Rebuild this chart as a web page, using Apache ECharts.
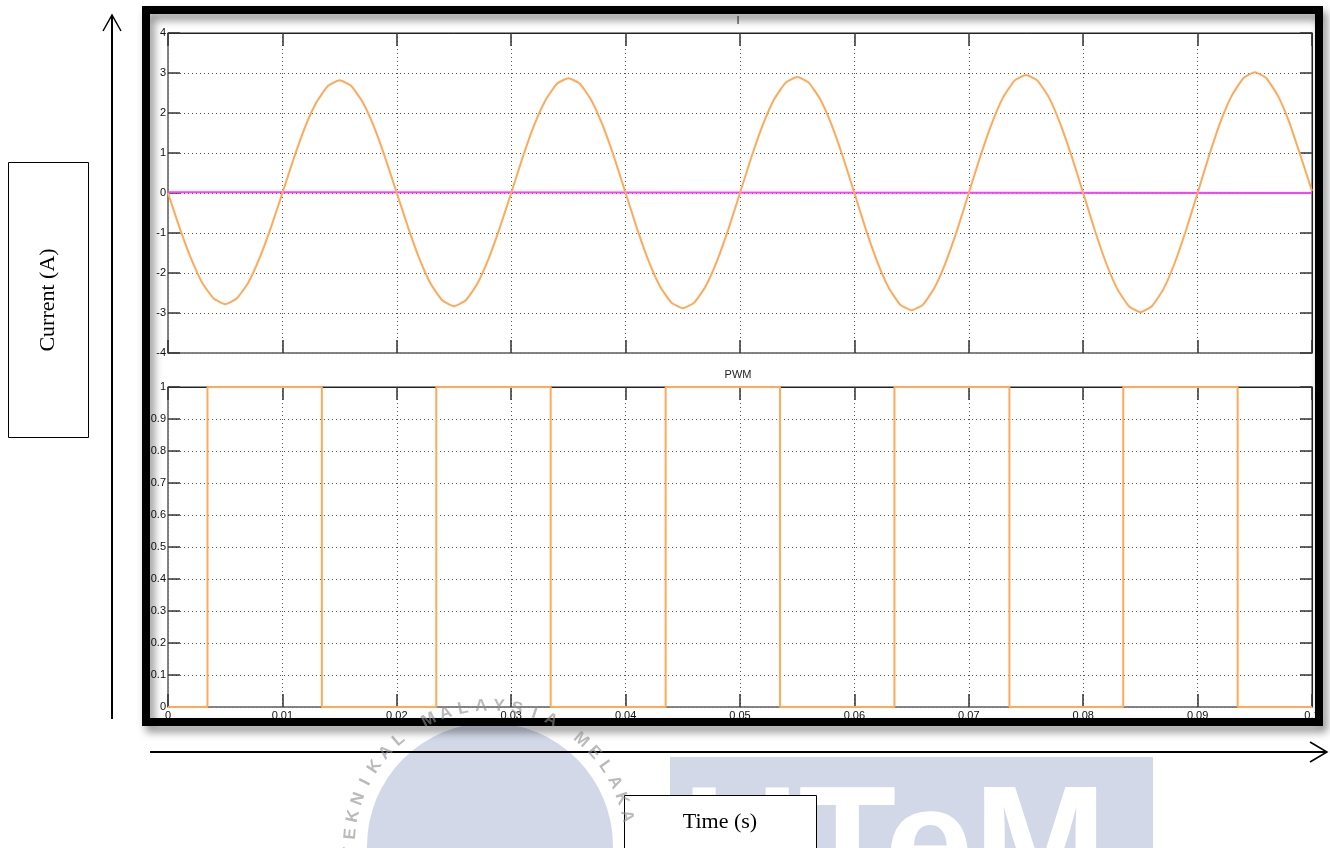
<!DOCTYPE html>
<html><head><meta charset="utf-8">
<script src="https://cdn.jsdelivr.net/npm/echarts@6/dist/echarts.min.js"></script>
<style>html,body{margin:0;padding:0;background:#fff}#c{width:1330px;height:848px}</style>
</head><body><div id="c"></div>
<script>
// ---- data ----
const sampleStep = 0.001; // seconds between current samples
const currentValues = [0,
 -0.86,-1.63,-2.25,-2.64,-2.78,-2.64,-2.25,-1.63,-0.86,0,
 0.87,1.66,2.28,2.68,2.82,2.68,2.28,1.66,0.87,0,
 -0.87,-1.66,-2.29,-2.69,-2.83,-2.69,-2.29,-1.66,-0.87,0,
 0.89,1.69,2.32,2.73,2.87,2.73,2.32,1.69,0.89,0,
 -0.89,-1.69,-2.33,-2.74,-2.88,-2.74,-2.33,-1.69,-0.89,0,
 0.90,1.71,2.35,2.76,2.90,2.76,2.35,1.71,0.90,0,
 -0.91,-1.72,-2.37,-2.79,-2.93,-2.79,-2.37,-1.72,-0.91,0,
 0.91,1.73,2.39,2.81,2.95,2.81,2.39,1.73,0.91,0,
 -0.92,-1.75,-2.41,-2.83,-2.98,-2.83,-2.41,-1.75,-0.92,0,
 0.93,1.78,2.44,2.87,3.02,2.87,2.44,1.78,0.93,0.05];
const refTime = [0, 0.0099, 0.01, 0.1];
const refValues = [0.02, 0.02, 0, 0];
const pwmRise = [0.00345, 0.02345, 0.0435, 0.0635, 0.0835];
const pwmFall = [0.01345, 0.03345, 0.0535, 0.07355, 0.0935];
const timeTicks = [0, 0.01, 0.02, 0.03, 0.04, 0.05, 0.06, 0.07, 0.08, 0.09, 0.1];
const currentTicks = [-4, -3, -2, -1, 0, 1, 2, 3, 4];
const pwmTicks = [0, 0.1, 0.2, 0.3, 0.4, 0.5, 0.6, 0.7, 0.8, 0.9, 1];
const topTitle = 'I';
const bottomTitle = 'PWM';
const yName = 'Current (A)';
const xName = 'Time (s)';

// ---- build series data ----
const currentData = currentValues.map((v, i) => [i * sampleStep, v]);
const refData = refTime.map((t, i) => [t, refValues[i]]);
const pwmData = [[timeTicks[0], 0]];
pwmRise.forEach((r, i) => {
  pwmData.push([r, 0], [r, 1], [pwmFall[i], 1], [pwmFall[i], 0]);
});
pwmData.push([timeTicks[timeTicks.length - 1], 0]);

const ORANGE = '#ffa95a';
const MAGENTA = '#ff3cff';
const FONT = 'Liberation Sans, Arial, sans-serif';
const SERIF = 'Liberation Serif, Times New Roman, serif';

function xAxes(gi, labels) {
  return [
    { gridIndex: gi, type: 'value', min: timeTicks[0], max: timeTicks[timeTicks.length-1], interval: 0.01,
      axisLine: { onZero: false, lineStyle: { color: '#808080', width: 1.5 } },
      axisTick: { inside: true, length: 13, lineStyle: { color: '#333', width: 1.5 } },
      axisLabel: { show: labels, margin: 3, fontSize: 11, fontFamily: FONT, color: '#111',
        formatter: v => String(+v.toFixed(2)) },
      splitLine: { show: true, lineStyle: { type: [1, 3], color: '#555', width: 1 } } },
    { gridIndex: gi, type: 'value', position: 'top', min: timeTicks[0], max: timeTicks[timeTicks.length-1], interval: 0.01,
      axisLine: { onZero: false, lineStyle: { color: '#222', width: 1 } },
      axisTick: { inside: true, length: 13, lineStyle: { color: '#333', width: 1.5 } },
      axisLabel: { show: false }, splitLine: { show: false } }
  ];
}
function yAxes(gi, ticks, interval, fmt) {
  return [
    { gridIndex: gi, type: 'value', min: ticks[0], max: ticks[ticks.length-1], interval: interval,
      axisLine: { show: true, onZero: false, lineStyle: { color: '#808080', width: 1.5 } },
      axisTick: { show: true, inside: true, length: 12, lineStyle: { color: '#333', width: 1.5 } },
      axisLabel: { margin: 2, fontSize: 11, fontFamily: FONT, color: '#111', formatter: fmt },
      splitLine: { show: true, lineStyle: { type: [1, 3], color: '#555', width: 1 } } },
    { gridIndex: gi, type: 'value', position: 'right', min: ticks[0], max: ticks[ticks.length-1], interval: interval,
      axisLine: { show: true, onZero: false, lineStyle: { color: '#222', width: 1 } },
      axisTick: { show: true, inside: true, length: 12, lineStyle: { color: '#333', width: 1.5 } },
      axisLabel: { show: false }, splitLine: { show: false } }
  ];
}

// watermark arc letters
const arcText = 'TEKNIKAL MALAYSIA MELAKA';
const arcCx = 490, arcCy = 846, arcR = 140;
const arcGraphics = [];
for (let i = 0; i < arcText.length; i++) {
  const ch = arcText[i];
  if (ch === ' ') continue;
  const ang = (182.5 - i * 7.4) * Math.PI / 180;
  arcGraphics.push({ type: 'text', z: 60,
    x: arcCx + arcR * Math.cos(ang), y: arcCy - arcR * Math.sin(ang),
    rotation: ang - Math.PI / 2,
    style: { text: ch, font: 'bold 17px ' + FONT, fill: 'rgba(140,140,140,0.6)', textAlign: 'center', textVerticalAlign: 'middle' } });
}

const chart = echarts.init(document.getElementById('c'), null, { renderer: 'canvas' });
chart.setOption({
  animation: false,
  backgroundColor: '#fff',
  grid: [
    { left: 168, top: 33, width: 1144, height: 320, show: true, borderColor: '#222', borderWidth: 1, backgroundColor: '#fff' },
    { left: 168, top: 387, width: 1144, height: 320, show: true, borderColor: '#222', borderWidth: 1, backgroundColor: '#fff' }
  ],
  xAxis: [...xAxes(0, false), ...xAxes(1, true)],
  yAxis: [...yAxes(0, currentTicks, 1, v => String(v)),
          ...yAxes(1, pwmTicks, 0.1, v => String(+v.toFixed(1)))],
  series: [
    { type: 'line', xAxisIndex: 0, yAxisIndex: 0, data: refData, showSymbol: false, z: 3,
      lineStyle: { color: MAGENTA, width: 2 } },
    { type: 'line', xAxisIndex: 0, yAxisIndex: 0, data: currentData, showSymbol: false, z: 4, smooth: 0.15,
      lineStyle: { color: ORANGE, width: 2 } },
    { type: 'line', xAxisIndex: 2, yAxisIndex: 2, data: pwmData, showSymbol: false, clip: false, z: 4,
      lineStyle: { color: ORANGE, width: 2 } }
  ],
  graphic: [
    // watermark
    { type: 'circle', z: 1, shape: { cx: arcCx, cy: arcCy, r: 123 }, style: { fill: '#d3d8e9' } },
    { type: 'rect', z: 1, shape: { x: 670, y: 757, width: 483, height: 100 }, style: { fill: '#d3d8e9' } },
    { type: 'text', z: 2, left: 683, top: 773, style: { text: 'UTeM', font: 'bold 160px ' + FONT, fill: '#ffffff' } },
    ...arcGraphics,
    // titles
    { type: 'text', z: 50, x: 738, y: 21, style: { text: topTitle, font: '11px ' + FONT, fill: '#222', textAlign: 'center', textVerticalAlign: 'middle' } },
    { type: 'text', z: 50, x: 738, y: 375, style: { text: bottomTitle, font: '11px ' + FONT, fill: '#222', textAlign: 'center', textVerticalAlign: 'middle' } },
    // black frame
    { type: 'rect', z: 40, shape: { x: 146, y: 10, width: 1173, height: 712 },
      style: { fill: 'none', stroke: '#000', lineWidth: 8, shadowColor: 'rgba(0,0,0,0.45)', shadowBlur: 8, shadowOffsetX: 4, shadowOffsetY: 6 } },
    // vertical arrow
    { type: 'line', z: 50, shape: { x1: 112, y1: 719, x2: 112, y2: 15 }, style: { stroke: '#000', lineWidth: 2 } },
    { type: 'polyline', z: 50, shape: { points: [[103, 31], [112, 15], [121, 31]] }, style: { stroke: '#000', lineWidth: 1.5, fill: 'none' } },
    // horizontal arrow
    { type: 'line', z: 50, shape: { x1: 150, y1: 752, x2: 1326, y2: 752 }, style: { stroke: '#000', lineWidth: 2 } },
    { type: 'polyline', z: 50, shape: { points: [[1310, 742], [1327, 752], [1310, 762]] }, style: { stroke: '#000', lineWidth: 1.5, fill: 'none' } },
    // y name box
    { type: 'rect', z: 50, shape: { x: 8.5, y: 162.5, width: 80, height: 275 }, style: { fill: '#fff', stroke: '#000', lineWidth: 1 } },
    { type: 'text', z: 51, x: 48, y: 300, rotation: Math.PI / 2,
      style: { text: yName, font: '22px ' + SERIF, fill: '#000', textAlign: 'center', textVerticalAlign: 'middle' } },
    // x name box
    { type: 'rect', z: 50, shape: { x: 624.5, y: 795.5, width: 192, height: 60 }, style: { fill: '#fff', stroke: '#000', lineWidth: 1 } },
    { type: 'text', z: 51, x: 720, y: 822, style: { text: xName, font: '22px ' + SERIF, fill: '#000', textAlign: 'center', textVerticalAlign: 'middle' } }
  ]
});
</script></body></html>
